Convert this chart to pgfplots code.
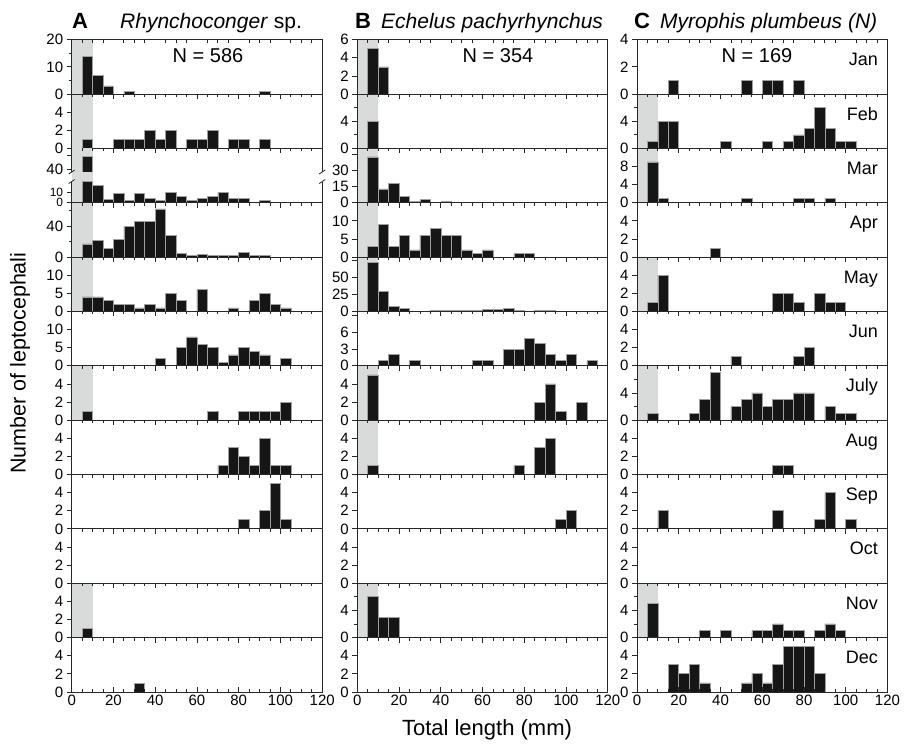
\documentclass[border=0pt]{standalone}
\usepackage{fontspec}
\setmainfont{Liberation Sans}
\usepackage{pgfplots}
\pgfplotsset{compat=1.18}

\definecolor{barfill}{RGB}{22,22,22}
\definecolor{bargray}{RGB}{160,160,160}
\definecolor{shadegray}{RGB}{217,218,218}
\definecolor{axisgray}{RGB}{40,40,40}

\newcommand{\ticksize}{\fontsize{15}{15}\selectfont}
\newcommand{\monthfont}{\fontsize{18}{18}\selectfont}

\tikzset{spine/.style={axisgray, line width=0.8pt}}
\pgfplotsset{
  panel/.style={
    scale only axis, width=250.5pt, height=54.35pt,
    anchor=north west,
    xmin=0, xmax=120, ymin=0,
    axis on top,
    axis line style={line width=0.8pt, axisgray},
    every tick/.style={line width=0.8pt, axisgray},
    xtick={0,20,...,120}, minor x tick num=3,
    xticklabels={},
    xtick pos=right, xtick align=inside,
    ytick pos=left, ytick align=outside,
    major tick length=5pt, minor tick length=3pt,
    tick label style={font=\ticksize},
    /pgf/number format/assume math mode=true,
  },
  bars/.style={ybar, bar width=5, fill=barfill, draw=bargray, line width=0.6pt},
  y6/.style={ymax=6, ytick={0,2,4}},
  y8/.style={ymax=8, ytick={0,4}, minor ytick={2,6}},
  y15/.style={ymax=15, ytick={0,5,10}},
  firstrow/.style={xmajorticks=false, xminorticks=false},
  lastrow/.style={xtick pos=both, xticklabel pos=left,
    xticklabels={0,20,40,60,80,100,120}},
}

% #1 left edge (pt), #2 row, #3 axis options, #4 body
\newcommand{\pane}[4]{%
  \begin{axis}[panel, at={(#1pt,{-39.7pt-#2*54.35pt})}, #3]
  #4
  \end{axis}}
\newcommand{\shadeit}{\fill[shadegray] (axis cs:0,\pgfkeysvalueof{/pgfplots/ymin}) rectangle (axis cs:10,\pgfkeysvalueof{/pgfplots/ymax});}
\newcommand{\mlabel}[1]{\node[anchor=base east, font=\monthfont, inner sep=0pt] at ([xshift=-9.5pt,yshift=-26pt]rel axis cs:1,1) {#1};}

\begin{document}
\begin{tikzpicture}
\useasboundingbox (0,0) rectangle (913pt,-744pt);

% ---------------- A: Rhynchoconger sp.
\pane{71.7}{0}{firstrow, ymax=20, ytick={0,10,20}, minor ytick={5,15}}{\shadeit
  \addplot[bars] coordinates {(7.5,14)(12.5,7)(17.5,3)(27.5,1)(92.5,1)};}
\pane{71.7}{1}{y6}{\shadeit
  \addplot[bars] coordinates {(7.5,1)(22.5,1)(27.5,1)(32.5,1)(37.5,2)(42.5,1)(47.5,2)(57.5,1)(62.5,1)(67.5,2)(77.5,1)(82.5,1)(92.5,1)};}
% March, broken axis: upper part
\begin{axis}[panel, at={(71.7pt,-148.4pt)}, height=23.6pt,
  ymin=38.11, ymax=54.61, ytick={40,50}, yticklabels={40,{}},
  axis line style={draw=none}, restrict y to domain=38.11:100]
  \shadeit
  \addplot[bars] coordinates {(7.5,49)(12.5,16)(17.5,3)(22.5,9)(27.5,2)(32.5,9)(37.5,4)(42.5,2)(47.5,10)(52.5,6)(57.5,2)(62.5,4)(67.5,6)(72.5,10)(77.5,4)(82.5,4)(92.5,2)};
\end{axis}
% March, lower part (draws the broken spines of both parts)
\begin{axis}[panel, anchor=south west, at={(71.7pt,-202.75pt)}, height=21.2pt,
  ymax=20, ytick={0,10}, axis line style={draw=none},
  yticklabel style={font=\fontsize{12}{12}\selectfont},
  xtick=\empty, minor x tick num=0, clip=false, restrict y to domain*=0:20]
  \fill[shadegray] (axis cs:0,0) rectangle (axis cs:10,29);
  \addplot[bars] coordinates {(7.5,49)(12.5,16)(17.5,3)(22.5,9)(27.5,2)(32.5,9)(37.5,4)(42.5,2)(47.5,10)(52.5,6)(57.5,2)(62.5,4)(67.5,6)(72.5,10)(77.5,4)(82.5,4)(92.5,2)};
  \draw[spine] (axis cs:0,20) -- (axis cs:0,0) -- (axis cs:120,0) -- (axis cs:120,20);
  \draw[spine] (axis cs:0,29) -- (axis cs:0,51.3);
  \draw[spine] (axis cs:120,29) -- (axis cs:120,51.3);
  \draw[spine] (axis cs:0,20) ++(-3pt,-2pt) -- ++(6pt,4pt);
  \draw[spine] (axis cs:0,29) ++(-3pt,-2pt) -- ++(6pt,4pt);
  \draw[spine] (axis cs:120,20) ++(-3pt,-2pt) -- ++(6pt,4pt);
  \draw[spine] (axis cs:120,29) ++(-3pt,-2pt) -- ++(6pt,4pt);
\end{axis}
\pane{71.7}{3}{ymax=70, ytick={0,40}, minor ytick={20,60}}{\shadeit
  \addplot[bars] coordinates {(7.5,17)(12.5,21)(17.5,11)(22.5,23)(27.5,40)(32.5,46)(37.5,46)(42.5,62)(47.5,28)(52.5,5)(57.5,2)(62.5,3)(67.5,2)(72.5,2)(77.5,2)(82.5,6)(87.5,2)(92.5,2)};}
\pane{71.7}{4}{y15}{\shadeit
  \addplot[bars] coordinates {(7.5,4)(12.5,4)(17.5,3)(22.5,2)(27.5,2)(32.5,1)(37.5,2)(42.5,1)(47.5,5)(52.5,3)(62.5,6)(77.5,1)(87.5,3)(92.5,5)(97.5,2)(102.5,1)};}
\pane{71.7}{5}{y15}{
  \addplot[bars] coordinates {(42.5,2)(52.5,5)(57.5,8)(62.5,6)(67.5,5)(72.5,1)(77.5,3)(82.5,5)(87.5,4)(92.5,3)(102.5,2)};}
\pane{71.7}{6}{y6}{\shadeit
  \addplot[bars] coordinates {(7.5,1)(67.5,1)(82.5,1)(87.5,1)(92.5,1)(97.5,1)(102.5,2)};}
\pane{71.7}{7}{y6}{
  \addplot[bars] coordinates {(72.5,1)(77.5,3)(82.5,2)(87.5,1)(92.5,4)(97.5,1)(102.5,1)};}
\pane{71.7}{8}{y6}{
  \addplot[bars] coordinates {(82.5,1)(92.5,2)(97.5,5)(102.5,1)};}
\pane{71.7}{9}{y6}{}
\pane{71.7}{10}{y6}{\shadeit
  \addplot[bars] coordinates {(7.5,1)};}
\pane{71.7}{11}{y6, lastrow}{
  \addplot[bars] coordinates {(32.5,1)};}

% ---------------- B: Echelus pachyrhynchus
\pane{357.3}{0}{firstrow, ymax=6, ytick={0,2,4,6}}{\shadeit
  \addplot[bars] coordinates {(7.5,5)(12.5,3)};}
\pane{357.3}{1}{y8}{\shadeit
  \addplot[bars] coordinates {(7.5,4)};}
\pane{357.3}{2}{ymax=51, ytick={0,15,30,45}, yticklabels={0,15,30,{}}}{\shadeit
  \addplot[bars] coordinates {(7.5,43)(12.5,13)(17.5,18)(22.5,6)(27.5,1)(32.5,3)(42.5,1)};}
\pane{357.3}{3}{y15}{\shadeit
  \addplot[bars] coordinates {(7.5,3)(12.5,9)(17.5,3)(22.5,6)(27.5,2)(32.5,6)(37.5,8)(42.5,6)(47.5,6)(52.5,2)(57.5,1)(62.5,2)(77.5,1)(82.5,1)};}
\pane{357.3}{4}{ymax=80, ytick={0,25,50,75}, yticklabels={0,25,50,{}}}{\shadeit
  \addplot[bars] coordinates {(7.5,72)(12.5,29)(17.5,7)(22.5,4)(37.5,2)(42.5,2)(47.5,2)(52.5,2)(57.5,2)(62.5,3)(67.5,3)(72.5,4)(77.5,1)(87.5,2)(92.5,2)};}
\pane{357.3}{5}{ymax=9.8, ytick={0,3,6,9}, yticklabels={0,3,6,{}}}{
  \addplot[bars] coordinates {(12.5,1)(17.5,2)(27.5,1)(57.5,1)(62.5,1)(72.5,3)(77.5,3)(82.5,5)(87.5,4)(92.5,2)(97.5,1)(102.5,2)(112.5,1)};}
\pane{357.3}{6}{y6}{\shadeit
  \addplot[bars] coordinates {(7.5,5)(87.5,2)(92.5,4)(97.5,1)(107.5,2)};}
\pane{357.3}{7}{y6}{\shadeit
  \addplot[bars] coordinates {(7.5,1)(77.5,1)(87.5,3)(92.5,4)};}
\pane{357.3}{8}{y6}{
  \addplot[bars] coordinates {(97.5,1)(102.5,2)};}
\pane{357.3}{9}{y6}{}
\pane{357.3}{10}{y8}{\shadeit
  \addplot[bars] coordinates {(7.5,6)(12.5,3)(17.5,3)};}
\pane{357.3}{11}{y6, lastrow}{}

% ---------------- C: Myrophis plumbeus (N)
\pane{637}{0}{firstrow, ymax=4, ytick={0,2,4}}{
  \addplot[bars] coordinates {(17.5,1)(52.5,1)(62.5,1)(67.5,1)(77.5,1)};
  \mlabel{Jan}}
\pane{637}{1}{y8}{\shadeit
  \addplot[bars] coordinates {(7.5,1)(12.5,4)(17.5,4)(42.5,1)(62.5,1)(72.5,1)(77.5,2)(82.5,3)(87.5,6)(92.5,3)(97.5,1)(102.5,1)};
  \mlabel{Feb}}
\pane{637}{2}{ymax=12, ytick={0,4,8}}{\shadeit
  \addplot[bars] coordinates {(7.5,9)(12.5,1)(52.5,1)(77.5,1)(82.5,1)(92.5,1)};
  \mlabel{Mar}}
\pane{637}{3}{y6}{
  \addplot[bars] coordinates {(37.5,1)};
  \mlabel{Apr}}
\pane{637}{4}{y6}{\shadeit
  \addplot[bars] coordinates {(7.5,1)(12.5,4)(67.5,2)(72.5,2)(77.5,1)(87.5,2)(92.5,1)(97.5,1)};
  \mlabel{May}}
\pane{637}{5}{y6}{
  \addplot[bars] coordinates {(47.5,1)(77.5,1)(82.5,2)};
  \mlabel{Jun}}
\pane{637}{6}{y8}{\shadeit
  \addplot[bars] coordinates {(7.5,1)(27.5,1)(32.5,3)(37.5,7)(47.5,2)(52.5,3)(57.5,4)(62.5,2)(67.5,3)(72.5,3)(77.5,4)(82.5,4)(92.5,2)(97.5,1)(102.5,1)};
  \mlabel{July}}
\pane{637}{7}{y6}{
  \addplot[bars] coordinates {(67.5,1)(72.5,1)};
  \mlabel{Aug}}
\pane{637}{8}{y6}{
  \addplot[bars] coordinates {(12.5,2)(67.5,2)(87.5,1)(92.5,4)(102.5,1)};
  \mlabel{Sep}}
\pane{637}{9}{y6}{\mlabel{Oct}}
\pane{637}{10}{y8}{\shadeit
  \addplot[bars] coordinates {(7.5,5)(32.5,1)(42.5,1)(57.5,1)(62.5,1)(67.5,2)(72.5,1)(77.5,1)(87.5,1)(92.5,2)(97.5,1)};
  \mlabel{Nov}}
\pane{637}{11}{y6, lastrow}{
  \addplot[bars] coordinates {(17.5,3)(22.5,2)(27.5,3)(32.5,1)(52.5,1)(57.5,2)(62.5,1)(67.5,3)(72.5,5)(77.5,5)(82.5,5)(87.5,2)};
  \mlabel{Dec}}

% titles and labels
\node[anchor=base west, inner sep=0pt, font=\fontsize{22}{22}\selectfont\bfseries] at (72pt,-28.3pt) {A};
\node[anchor=base west, inner sep=0pt, font=\fontsize{21}{21}\selectfont] at (120pt,-28.3pt) {\textit{Rhynchoconger} sp.};
\node[anchor=base west, inner sep=0pt, font=\fontsize{22}{22}\selectfont\bfseries] at (355pt,-28.3pt) {B};
\node[anchor=base west, inner sep=0pt, font=\fontsize{21}{21}\selectfont] at (381pt,-28.3pt) {\textit{Echelus pachyrhynchus}};
\node[anchor=base west, inner sep=0pt, font=\fontsize{22}{22}\selectfont\bfseries] at (634pt,-28.3pt) {C};
\node[anchor=base west, inner sep=0pt, font=\fontsize{21}{21}\selectfont] at (660pt,-28.3pt) {\textit{Myrophis plumbeus (N)}};
\node[anchor=base, inner sep=0pt, font=\fontsize{20}{20}\selectfont] at (208pt,-62.7pt) {N = 586};
\node[anchor=base, inner sep=0pt, font=\fontsize{20}{20}\selectfont] at (498pt,-62.7pt) {N = 354};
\node[anchor=base, inner sep=0pt, font=\fontsize{20}{20}\selectfont] at (757pt,-62.7pt) {N = 169};
\node[rotate=90, inner sep=0pt, font=\fontsize{21.5}{21.5}\selectfont] at (20pt,-363pt) {Number of leptocephali};
\node[inner sep=0pt, font=\fontsize{22}{22}\selectfont] at (487pt,-730pt) {Total length (mm)};
\end{tikzpicture}
\end{document}
